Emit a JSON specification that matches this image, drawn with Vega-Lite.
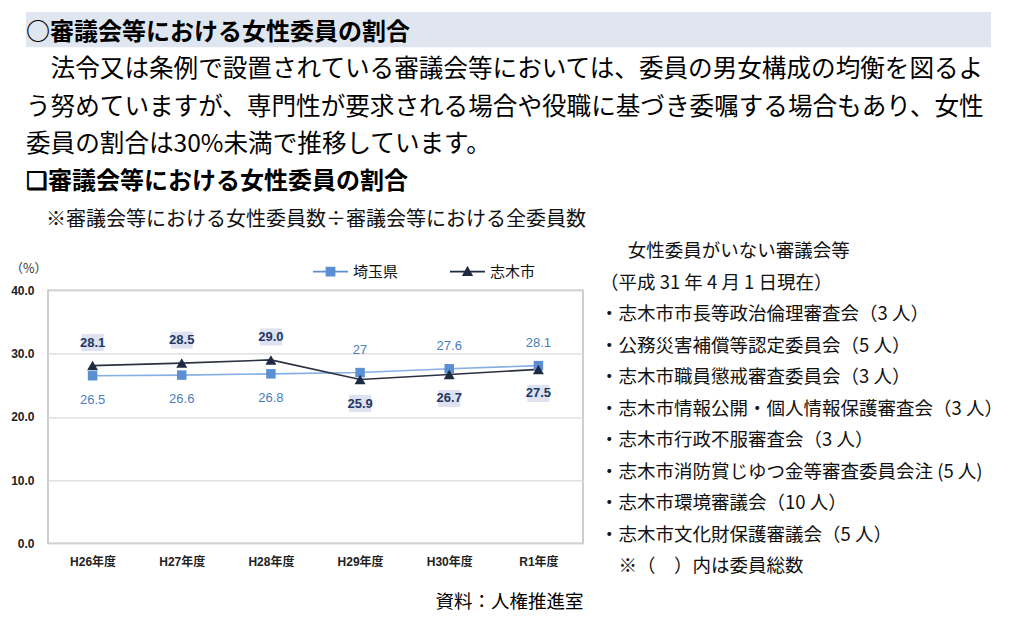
{
  "$schema": "https://vega.github.io/schema/vega-lite/v6.json",
  "background": "white",
  "padding": {"left": 9, "top": 11, "right": 0, "bottom": 0},
  "config": {
    "font": "Noto Sans CJK JP",
    "view": {"stroke": null}
  },
  "spacing": 5.35,
  "resolve": {"legend": {"color": "independent", "shape": "independent"}},
  "vconcat": [
    {
      "width": 943,
      "height": 224.4,
      "view": {"stroke": null},
      "data": {
        "values": [
          {"line": 1, "kind": "title", "text": "○審議会等における女性委員の割合"},
          {"line": 2, "kind": "body", "text": "\u200b　法令又は条例で設置されている審議会等においては、委員の男女構成の均衡を図るよ"},
          {"line": 3, "kind": "body", "text": "う努めていますが、専門性が要求される場合や役職に基づき委嘱する場合もあり、女性"},
          {"line": 4, "kind": "body", "text": "委員の割合は30%未満で推移しています。"},
          {"line": 5, "kind": "heading", "text": "❑審議会等における女性委員の割合"},
          {"line": 6, "kind": "note", "text": "\u200b　※審議会等における女性委員数÷審議会等における全委員数"}
        ]
      },
      "encoding": {
        "y": {"field": "line", "type": "ordinal", "scale": {"type": "band", "paddingInner": 0.06, "paddingOuter": 0.03}, "axis": null}
      },
      "layer": [
        {
          "transform": [{"filter": "datum.kind === 'title'"}],
          "mark": {"type": "rect", "color": "#dfe6f0", "xOffset": -22},
          "encoding": {
            "x": {"datum": 0, "type": "quantitative", "scale": {"domain": [0, 1]}, "axis": null},
            "x2": {"datum": 1}
          }
        },
        {
          "transform": [{"filter": "datum.kind === 'title' || datum.kind === 'heading'"}],
          "mark": {"type": "text", "align": "left", "baseline": "middle", "fontSize": 24, "fontWeight": "bold", "color": "#000000", "dx": -22, "dy": 3},
          "encoding": {
            "x": {"datum": 0, "type": "quantitative"},
            "text": {"field": "text"}
          }
        },
        {
          "transform": [{"filter": "datum.kind === 'body'"}],
          "mark": {"type": "text", "align": "left", "baseline": "middle", "fontSize": 24.6, "color": "#000000", "dx": -22, "dy": 3},
          "encoding": {
            "x": {"datum": 0, "type": "quantitative"},
            "text": {"field": "text"}
          }
        },
        {
          "transform": [{"filter": "datum.kind === 'note'"}],
          "mark": {"type": "text", "align": "left", "baseline": "middle", "fontSize": 20, "color": "#111111", "dx": -22, "dy": 3},
          "encoding": {
            "x": {"datum": 0, "type": "quantitative"},
            "text": {"field": "text"}
          }
        }
      ]
    },
    {
      "spacing": 16,
      "resolve": {"legend": {"color": "independent", "shape": "independent"}},
      "hconcat": [
        {
          "width": 535,
          "height": 253,
          "view": {"stroke": "#bfbfbf", "strokeWidth": 1.5},
          "data": {
            "values": [
              {"year": "H26年度", "series": "埼玉県", "value": 26.5},
              {"year": "H27年度", "series": "埼玉県", "value": 26.6},
              {"year": "H28年度", "series": "埼玉県", "value": 26.8},
              {"year": "H29年度", "series": "埼玉県", "value": 27},
              {"year": "H30年度", "series": "埼玉県", "value": 27.6},
              {"year": "R1年度", "series": "埼玉県", "value": 28.1},
              {"year": "H26年度", "series": "志木市", "value": 28.1},
              {"year": "H27年度", "series": "志木市", "value": 28.5},
              {"year": "H28年度", "series": "志木市", "value": 29.0},
              {"year": "H29年度", "series": "志木市", "value": 25.9},
              {"year": "H30年度", "series": "志木市", "value": 26.7},
              {"year": "R1年度", "series": "志木市", "value": 27.5}
            ]
          },
          "transform": [
            {"joinaggregate": [{"op": "max", "field": "value", "as": "maxv"}], "groupby": ["year"]}
          ],
          "encoding": {
            "x": {
              "field": "year", "type": "ordinal",
              "sort": ["H26年度", "H27年度", "H28年度", "H29年度", "H30年度", "R1年度"],
              "scale": {"type": "point", "padding": 0.5},
              "axis": {
                "title": "資料：人権推進室",
                "titleFont": "Noto Sans CJK JP", "titleFontSize": 18.5, "titleFontWeight": "normal", "titleColor": "#000000",
                "titleAnchor": "end", "titlePadding": 25,
                "labelAngle": 0, "labelFont": "Liberation Sans Narrow, Liberation Sans, Noto Sans CJK JP",
                "labelFontSize": 12, "labelFontWeight": "bold", "labelColor": "#222222", "labelPadding": 13,
                "ticks": false, "domain": false, "grid": false
              }
            },
            "y": {
              "field": "value", "type": "quantitative",
              "scale": {"domain": [0, 40]},
              "axis": {
                "values": [0, 10, 20, 30, 40], "format": ".1f",
                "title": "（%）", "titleAngle": 0, "titleAlign": "left", "titleBaseline": "middle",
                "titleX": -38, "titleY": -22, "titleFontSize": 12.5, "titleFontWeight": "normal", "titleColor": "#333333",
                "labelFont": "Liberation Sans Narrow, Liberation Sans", "labelFontSize": 12, "labelFontWeight": "bold",
                "labelColor": "#222222", "labelPadding": 14,
                "ticks": false, "domain": false,
                "gridColor": "#d9d9d9", "gridWidth": 1.3
              }
            }
          },
          "layer": [
            {
              "mark": {"type": "line", "strokeWidth": 1.6},
              "encoding": {
                "detail": {"field": "series"},
                "color": {"condition": {"test": "datum.series === '埼玉県'", "value": "#86b0e4"}, "value": "#2c3142"}
              }
            },
            {
              "transform": [{"filter": "false"}],
              "mark": {"type": "point", "filled": true, "opacity": 1},
              "encoding": {
                "color": {
                  "field": "series", "type": "nominal",
                  "scale": {"domain": ["埼玉県", "志木市"], "range": ["#5b8fd4", "#1e2a44"]},
                  "legend": {
                    "orient": "none", "legendX": 253.25, "legendY": -48.25, "direction": "horizontal",
                    "title": null, "padding": 11.75, "symbolSize": 1225, "symbolStrokeWidth": 0,
                    "symbolOpacity": 1,
                    "labelOffset": 5, "columnPadding": 51, "labelFontSize": 15, "labelFont": "Noto Sans CJK JP",
                    "labelColor": "#111111"
                  }
                },
                "shape": {
                  "field": "series", "type": "nominal",
                  "scale": {
                    "domain": ["埼玉県", "志木市"],
                    "range": [
                      "M-1,-0.045H1V0.045H-1ZM-0.28,-0.28H0.28V0.28H-0.28Z",
                      "M-1,-0.045H1V0.045H-1ZM0,-0.33L0.32,0.25H-0.32Z"
                    ]
                  },
                  "legend": {
                    "orient": "none", "legendX": 253.25, "legendY": -48.25, "direction": "horizontal",
                    "title": null, "padding": 11.75, "symbolSize": 1225, "symbolStrokeWidth": 0,
                    "symbolOpacity": 1,
                    "labelOffset": 5, "columnPadding": 51, "labelFontSize": 15, "labelFont": "Noto Sans CJK JP",
                    "labelColor": "#111111"
                  }
                }
              }
            },
            {
              "mark": {"type": "point", "filled": true, "opacity": 1},
              "encoding": {
                "color": {"field": "series", "type": "nominal"},
                "shape": {"condition": {"test": "datum.series === '埼玉県'", "value": "square"}, "value": "triangle-up"},
                "size": {"condition": {"test": "datum.series === '埼玉県'", "value": 90}, "value": 120}
              }
            },
            {
              "transform": [{"filter": "datum.series === '志木市' && datum.value === datum.maxv"}],
              "mark": {"type": "point", "shape": "M-1.3,-1H1.3V1H-1.3Z", "filled": true, "color": "#dde1f0", "opacity": 1, "size": 289, "yOffset": -23}
            },
            {
              "transform": [{"filter": "datum.series === '志木市' && datum.value !== datum.maxv"}],
              "mark": {"type": "point", "shape": "M-1.3,-1H1.3V1H-1.3Z", "filled": true, "color": "#dde1f0", "opacity": 1, "size": 289, "yOffset": 24}
            },
            {
              "transform": [{"filter": "datum.series === '志木市' && datum.value === datum.maxv"}],
              "mark": {"type": "text", "font": "Liberation Sans Narrow, Liberation Sans", "fontSize": 13, "fontWeight": "bold", "color": "#1f3864", "baseline": "middle", "dy": -23},
              "encoding": {"text": {"field": "value", "type": "quantitative", "format": ".1f"}}
            },
            {
              "transform": [{"filter": "datum.series === '志木市' && datum.value !== datum.maxv"}],
              "mark": {"type": "text", "font": "Liberation Sans Narrow, Liberation Sans", "fontSize": 13, "fontWeight": "bold", "color": "#1f3864", "baseline": "middle", "dy": 24},
              "encoding": {"text": {"field": "value", "type": "quantitative", "format": ".1f"}}
            },
            {
              "transform": [{"filter": "datum.series === '埼玉県' && datum.value === datum.maxv"}],
              "mark": {"type": "text", "font": "Liberation Sans Narrow, Liberation Sans", "fontSize": 13, "color": "#4a7ebb", "baseline": "middle", "dy": -23},
              "encoding": {"text": {"field": "value", "type": "quantitative", "format": "~g"}}
            },
            {
              "transform": [{"filter": "datum.series === '埼玉県' && datum.value !== datum.maxv"}],
              "mark": {"type": "text", "font": "Liberation Sans Narrow, Liberation Sans", "fontSize": 13, "color": "#4a7ebb", "baseline": "middle", "dy": 24},
              "encoding": {"text": {"field": "value", "type": "quantitative", "format": "~g"}}
            }
          ]
        },
        {
          "width": 400,
          "height": 315,
          "view": {"stroke": null},
          "data": {
            "values": [
              {"line": 1, "text": "\u200b　\u2002女性委員がいない審議会等"},
              {"line": 2, "text": "（平成 31 年 4 月 1 日現在）"},
              {"line": 3, "text": "・志木市市長等政治倫理審査会（3 人）"},
              {"line": 4, "text": "・公務災害補償等認定委員会（5 人）"},
              {"line": 5, "text": "・志木市職員懲戒審査委員会（3 人）"},
              {"line": 6, "text": "・志木市情報公開・個人情報保護審査会（3 人）"},
              {"line": 7, "text": "・志木市行政不服審査会（3 人）"},
              {"line": 8, "text": "・志木市消防賞じゆつ金等審査委員会注 (5 人)"},
              {"line": 9, "text": "・志木市環境審議会（10 人）"},
              {"line": 10, "text": "・志木市文化財保護審議会（5 人）"},
              {"line": 11, "text": "\u200b　※（　）内は委員総数"}
            ]
          },
          "mark": {"type": "text", "align": "left", "baseline": "middle", "fontSize": 18.5, "color": "#111111", "dy": -39},
          "encoding": {
            "y": {"field": "line", "type": "ordinal", "scale": {"type": "point", "padding": 0}, "axis": null},
            "x": {"datum": 0, "type": "quantitative", "scale": {"domain": [0, 1]}, "axis": null},
            "text": {"field": "text"}
          }
        }
      ]
    }
  ]
}
